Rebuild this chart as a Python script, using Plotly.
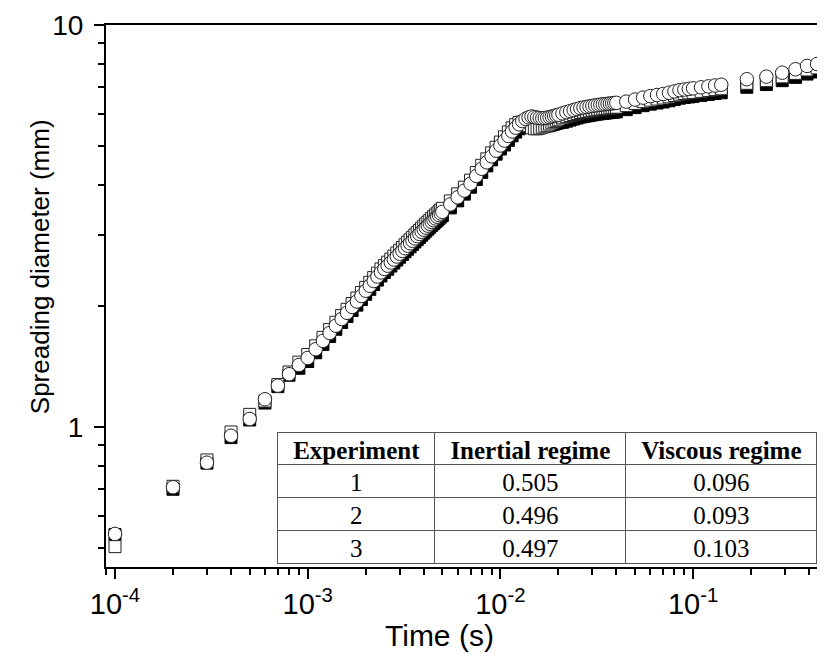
import plotly.graph_objects as go

# ---------------- data ----------------
time_s = [
    0.0001, 0.0002, 0.0003, 0.0004, 0.0005, 0.0006, 0.0007, 0.0008, 0.0009, 0.0010,
    0.0011, 0.0012, 0.0013, 0.0014, 0.0015, 0.0016, 0.0017, 0.0018, 0.0019, 0.0020,
    0.0021, 0.0022, 0.0023, 0.0024, 0.0025, 0.0026, 0.0027, 0.0028, 0.0029, 0.0030,
    0.0031, 0.0032, 0.0033, 0.0034, 0.0035, 0.0036, 0.0037, 0.0038, 0.0039, 0.0040,
    0.0041, 0.0042, 0.0043, 0.0044, 0.0045, 0.0046, 0.0047, 0.0048, 0.0049, 0.0050,
    0.0055, 0.0060, 0.0065, 0.0070, 0.0075, 0.0080, 0.0085, 0.0090, 0.0095, 0.0100,
    0.0105, 0.0110, 0.0115, 0.0120, 0.0125, 0.0130, 0.0135, 0.0140, 0.0145, 0.0150,
    0.0155, 0.0160, 0.0165, 0.0170, 0.0175, 0.0180, 0.0185, 0.0190, 0.0195, 0.0200,
    0.021, 0.022, 0.023, 0.024, 0.025, 0.026, 0.027, 0.028, 0.029, 0.030,
    0.031, 0.032, 0.033, 0.034, 0.035, 0.036, 0.037, 0.038, 0.039, 0.040,
    0.045, 0.050, 0.055, 0.060, 0.065, 0.070, 0.075, 0.080, 0.085, 0.090, 0.095, 0.100,
    0.11, 0.12, 0.13, 0.14,
    0.19, 0.24, 0.29, 0.34, 0.39, 0.44, 0.49,
]

# Experiment 1 (filled squares), spreading diameter in mm
exp1_d = [
    0.540, 0.700, 0.813, 0.941, 1.041, 1.147, 1.260, 1.345, 1.400, 1.455,
    1.530, 1.605, 1.679, 1.750, 1.819, 1.884, 1.949, 2.010, 2.075, 2.139,
    2.200, 2.261, 2.320, 2.375, 2.423, 2.468, 2.514, 2.558, 2.602, 2.644,
    2.686, 2.728, 2.768, 2.808, 2.847, 2.886, 2.924, 2.961, 2.999, 3.035,
    3.071, 3.106, 3.139, 3.171, 3.204, 3.236, 3.267, 3.299, 3.329, 3.360,
    3.508, 3.652, 3.796, 3.949, 4.127, 4.300, 4.462, 4.619, 4.771, 4.915,
    5.03, 5.165, 5.30, 5.415, 5.52, 5.62, 5.67, 5.70, 5.71, 5.68,
    5.65, 5.62, 5.61, 5.60, 5.61, 5.63, 5.65, 5.67, 5.69, 5.71,
    5.727, 5.765, 5.801, 5.836, 5.869, 5.901, 5.921, 5.940, 5.958, 5.976,
    5.994, 6.007, 6.018, 6.029, 6.038, 6.048, 6.057, 6.066, 6.074, 6.084,
    6.158, 6.231, 6.300, 6.355, 6.396, 6.434, 6.478, 6.527, 6.575, 6.601, 6.623, 6.644,
    6.683, 6.719, 6.753, 6.783,
    7.00, 7.11, 7.27, 7.41, 7.55, 7.64, 7.78,
]

# Experiment 2 (open squares)
exp2_d = [
    0.504, 0.712, 0.828, 0.972, 1.075, 1.160, 1.275, 1.370, 1.450, 1.515,
    1.592, 1.671, 1.747, 1.822, 1.893, 1.962, 2.029, 2.093, 2.161, 2.225,
    2.290, 2.353, 2.414, 2.473, 2.521, 2.570, 2.616, 2.662, 2.708, 2.752,
    2.796, 2.840, 2.882, 2.922, 2.963, 3.004, 3.044, 3.083, 3.121, 3.159,
    3.197, 3.232, 3.267, 3.301, 3.334, 3.368, 3.401, 3.433, 3.465, 3.498,
    3.650, 3.802, 3.950, 4.111, 4.295, 4.476, 4.646, 4.807, 4.965, 5.115,
    5.27, 5.42, 5.55, 5.65, 5.72, 5.74, 5.70, 5.62, 5.55, 5.52,
    5.52, 5.54, 5.57, 5.60, 5.63, 5.67, 5.71, 5.75, 5.79, 5.83,
    5.877, 5.916, 5.953, 5.989, 6.024, 6.057, 6.077, 6.097, 6.115, 6.133,
    6.151, 6.165, 6.177, 6.187, 6.197, 6.207, 6.217, 6.225, 6.234, 6.244,
    6.30, 6.375, 6.445, 6.501, 6.543, 6.582, 6.627, 6.678, 6.727, 6.753, 6.776, 6.797,
    6.837, 6.874, 6.908, 6.940,
    7.16, 7.27, 7.43, 7.58, 7.73, 7.82, 7.96,
]

# Experiment 3 (open circles)
exp3_d = [
    0.542, 0.708, 0.815, 0.951, 1.047, 1.172, 1.267, 1.353, 1.426, 1.485,
    1.561, 1.638, 1.713, 1.786, 1.856, 1.923, 1.989, 2.052, 2.118, 2.182,
    2.245, 2.307, 2.367, 2.424, 2.472, 2.519, 2.565, 2.610, 2.655, 2.698,
    2.741, 2.784, 2.825, 2.865, 2.905, 2.945, 2.984, 3.022, 3.060, 3.097,
    3.134, 3.169, 3.203, 3.236, 3.269, 3.302, 3.334, 3.366, 3.397, 3.429,
    3.579, 3.727, 3.873, 4.030, 4.211, 4.388, 4.554, 4.713, 4.868, 5.015,
    5.158, 5.297, 5.434, 5.553, 5.662, 5.768, 5.84, 5.89, 5.92, 5.90,
    5.88, 5.87, 5.86, 5.87, 5.88, 5.90, 5.92, 5.94, 5.96, 5.98,
    6.028, 6.068, 6.106, 6.143, 6.178, 6.212, 6.233, 6.253, 6.272, 6.290,
    6.309, 6.323, 6.335, 6.346, 6.356, 6.366, 6.376, 6.385, 6.394, 6.404,
    6.448, 6.525, 6.597, 6.654, 6.697, 6.737, 6.783, 6.835, 6.885, 6.912, 6.935, 6.957,
    6.998, 7.036, 7.071, 7.103,
    7.33, 7.44, 7.61, 7.76, 7.91, 8.00, 8.15,
]

x_tickvals = [1e-4, 1e-3, 1e-2, 1e-1]
x_ticktext = ["10<sup>-4</sup>", "10<sup>-3</sup>", "10<sup>-2</sup>", "10<sup>-1</sup>"]
y_tickvals = [1, 10]
y_ticktext = ["1", "10"]

table_header = ["Experiment", "Inertial regime", "Viscous regime"]
table_experiment = ["1", "2", "3"]
table_inertial = ["0.505", "0.496", "0.497"]
table_viscous = ["0.096", "0.093", "0.103"]

# ---------------- figure ----------------
SANS = "Liberation Sans, Arial, sans-serif"
SERIF = "Liberation Serif, Times New Roman, serif"

fig = go.Figure()

fig.add_trace(go.Scatter(
    x=time_s, y=exp1_d, mode="markers", name="Experiment 1",
    marker=dict(symbol="square", size=12, color="black",
                line=dict(color="black", width=1)),
))
fig.add_trace(go.Scatter(
    x=time_s, y=exp2_d, mode="markers", name="Experiment 2",
    marker=dict(symbol="square", size=12, color="white",
                line=dict(color="#222222", width=1)),
))
fig.add_trace(go.Scatter(
    x=time_s, y=exp3_d, mode="markers", name="Experiment 3",
    marker=dict(symbol="circle", size=13.5, color="white",
                line=dict(color="#222222", width=1)),
))

fig.add_trace(go.Table(
    domain=dict(x=[0.239, 0.989], y=[0.0, 0.248]),
    columnwidth=[157, 191, 191],
    header=dict(
        values=table_header,
        align="center",
        height=32,
        font=dict(family=SERIF, size=25, color="black", weight="bold"),
        fill=dict(color="white"),
        line=dict(color="#555555", width=1),
    ),
    cells=dict(
        values=[table_experiment, table_inertial, table_viscous],
        align="center",
        height=33,
        font=dict(family=SERIF, size=25, color="black"),
        fill=dict(color="white"),
        line=dict(color="#555555", width=1),
    ),
))

fig.add_annotation(
    text="Time (s)", xref="paper", yref="paper",
    x=0.4645, y=-0.127, xanchor="center", yanchor="middle",
    showarrow=False, font=dict(family=SANS, size=30, color="black"),
)
fig.add_annotation(
    text="Spreading diameter (mm)", xref="paper", yref="paper",
    x=-0.0918, y=0.555, xanchor="center", yanchor="middle", textangle=-90,
    showarrow=False, font=dict(family=SANS, size=26, color="black"),
)

fig.update_layout(
    width=817, height=646, autosize=False,
    margin=dict(l=98, r=0, t=17, b=87),
    paper_bgcolor="white", plot_bgcolor="white",
    showlegend=False,
)

fig.update_xaxes(
    type="log", range=[-4.0467, -0.3155],
    showgrid=False, zeroline=False,
    showline=True, linecolor="black", linewidth=2, mirror=True,
    ticks="outside", ticklen=10, tickwidth=2, tickcolor="black",
    tickvals=x_tickvals, ticktext=x_ticktext,
    tickfont=dict(family=SANS, size=29, color="black"),
    minor=dict(ticks="outside", ticklen=6, tickwidth=1.5, tickcolor="black",
               dtick="D1", showgrid=False),
)
fig.update_yaxes(
    type="log", range=[-0.3483, 1.0],
    showgrid=False, zeroline=False,
    showline=True, linecolor="black", linewidth=2,
    ticks="outside", ticklen=10, tickwidth=2, tickcolor="black",
    tickvals=y_tickvals, ticktext=y_ticktext,
    tickfont=dict(family=SANS, size=28, color="black"),
    ticklabelstandoff=5,
    minor=dict(ticks="outside", ticklen=6, tickwidth=1.5, tickcolor="black",
               dtick="D1", showgrid=False),
)

fig.write_html("out.html")
